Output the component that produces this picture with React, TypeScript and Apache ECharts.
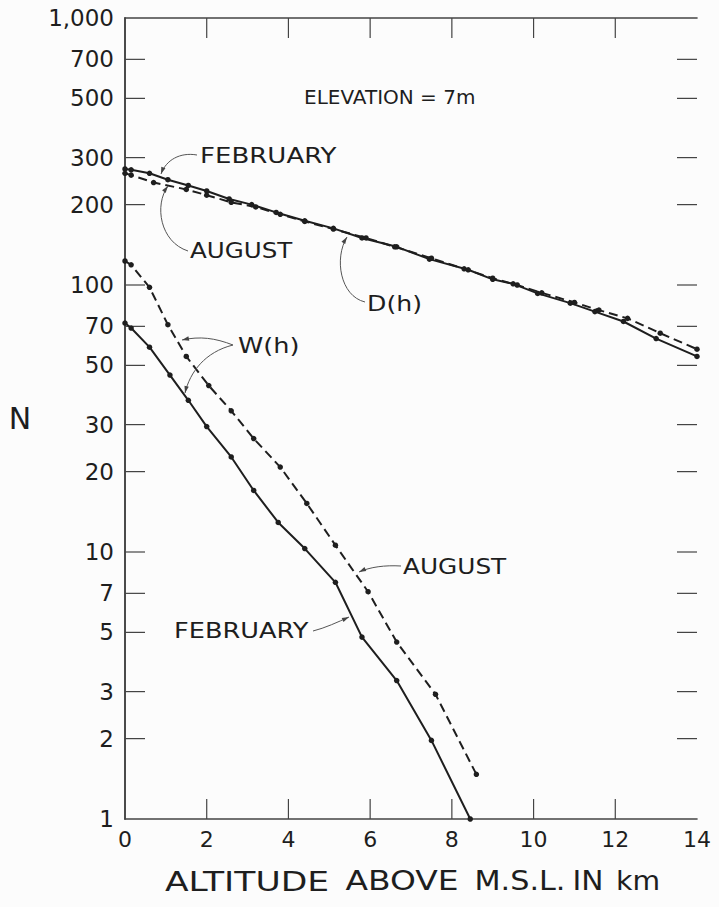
import React, { useEffect, useRef } from "react";
import * as echarts from "echarts";

// D(h) — February (solid) and August (dashed)
const dFebH = [0, 0.15, 0.6, 1.05, 1.55, 2.0, 2.55, 3.1, 3.7, 4.4, 5.1, 5.8, 6.65, 7.45, 8.4, 9.0, 9.5, 10.1, 10.9, 11.5, 12.2, 13.0, 14.0];
const dFebN = [272, 270, 262, 248, 236, 225, 210, 200, 187, 174, 163, 150, 139, 125, 114, 105, 101, 93, 85.5, 79.5, 73, 63, 54];
const dAugH = [0, 0.15, 0.7, 1.5, 2.0, 2.6, 3.2, 3.8, 4.4, 5.1, 5.9, 6.6, 7.5, 8.3, 9.0, 9.6, 10.2, 11.0, 11.6, 12.3, 13.1, 14.0];
const dAugN = [262, 258, 242, 228, 217, 204, 196, 184, 173, 162, 150, 139, 126, 115, 106, 100, 93.5, 86, 80.5, 75, 66, 57.5];

// W(h) — February (solid) and August (dashed)
const wFebH = [0, 0.15, 0.6, 1.1, 1.55, 2.0, 2.6, 3.15, 3.75, 4.4, 5.15, 5.8, 6.65, 7.5, 8.45];
const wFebN = [72, 69, 58.5, 46, 37, 29.5, 22.7, 17, 12.9, 10.3, 7.7, 4.8, 3.3, 1.97, 1.0];
const wAugH = [0, 0.15, 0.6, 1.05, 1.5, 2.05, 2.6, 3.15, 3.8, 4.45, 5.15, 5.95, 6.65, 7.6, 8.6];
const wAugN = [123, 119, 98, 71, 54, 42, 33.8, 26.6, 20.8, 15.2, 10.6, 7.1, 4.6, 2.93, 1.47];

const yTicks = [1, 2, 3, 5, 7, 10, 20, 30, 50, 70, 100, 200, 300, 500, 700, 1000];
const yInnerTicks = [2, 3, 5, 7, 10, 20, 30, 50, 70, 100, 200, 300, 500, 700];
const xInnerTicks = [2, 4, 6, 8, 10, 12];
const X_MIN = 0;
const X_MAX = 14;
const Y_MIN = 1;
const Y_MAX = 1000;

const zip = (h: number[], n: number[]) => h.map((v, i) => [v, n[i]]);

const FONT = "DejaVu Sans";
const INK = "#1e1e1e";
const TICK_LEN = 20;

export default function App() {
  const ref = useRef<HTMLDivElement>(null);
  useEffect(() => {
    if (!ref.current) return;
    const chart = echarts.init(ref.current, null, { renderer: "svg" });

    const axisLine = { show: true, lineStyle: { color: "#444", width: 1.6 } };

    const lineSeries = (name: string, data: number[][], dashed: boolean) => ({
      name,
      type: "line",
      data,
      symbol: "circle",
      symbolSize: 5.5,
      showSymbol: true,
      itemStyle: { color: INK },
      lineStyle: { color: INK, width: 2, type: dashed ? [9, 5] : "solid" },
      z: 3,
    });

    const tickLine = (x1: number, y1: number, x2: number, y2: number) => ({
      type: "line",
      shape: { x1, y1, x2, y2 },
      style: { stroke: "#444", lineWidth: 1.2 },
    });

    const yTickSeries = {
      type: "custom",
      data: yInnerTicks.map((v) => [X_MIN, v]),
      silent: true,
      z: 2,
      renderItem: (_p: any, api: any) => {
        const v = api.value(1);
        const a = api.coord([X_MIN, v]);
        const b = api.coord([X_MAX, v]);
        return {
          type: "group",
          children: [tickLine(a[0], a[1], a[0] + TICK_LEN, a[1]), tickLine(b[0] - TICK_LEN, b[1], b[0], b[1])],
        };
      },
    };
    const xTickSeries = {
      type: "custom",
      data: xInnerTicks.map((v) => [v, Y_MIN]),
      silent: true,
      z: 2,
      renderItem: (_p: any, api: any) => {
        const v = api.value(0);
        const a = api.coord([v, Y_MIN]);
        const b = api.coord([v, Y_MAX]);
        return {
          type: "group",
          children: [tickLine(a[0], a[1], a[0], a[1] - TICK_LEN), tickLine(b[0], b[1], b[0], b[1] + TICK_LEN)],
        };
      },
    };

    const txt = (text: string, x: number, y: number, size = 21, align = "left", sx = 1) => ({
      type: "text",
      x,
      y,
      scaleX: sx,
      style: { text, fontSize: size, fontFamily: FONT, fill: INK, align, verticalAlign: "middle" },
      z: 10,
    });
    const curve = (x1: number, y1: number, cpx1: number, cpy1: number, cpx2: number, cpy2: number, x2: number, y2: number) => {
      const dx = x2 - cpx2;
      const dy = y2 - cpy2;
      const L = Math.hypot(dx, dy) || 1;
      const ux = dx / L;
      const uy = dy / L;
      const len = 7;
      const w = 2.2;
      const bx = x2 - ux * len;
      const by = y2 - uy * len;
      return [
        {
          type: "bezierCurve",
          shape: { x1, y1, cpx1, cpy1, cpx2, cpy2, x2, y2 },
          style: { stroke: "#555", lineWidth: 1, fill: "none" },
          z: 10,
        },
        {
          type: "polygon",
          shape: { points: [[x2, y2], [bx - uy * w, by + ux * w], [bx + uy * w, by - ux * w]] },
          style: { fill: "#444" },
          z: 10,
        },
      ];
    };

    chart.setOption({
      animation: false,
      backgroundColor: "#fcfcfc",
      grid: { left: 125, right: 22, top: 18, bottom: 88, containLabel: false },
      xAxis: [
        {
          type: "value",
          min: X_MIN,
          max: X_MAX,
          interval: 2,
          position: "bottom",
          axisLine,
          axisTick: { show: false },
          splitLine: { show: false },
          axisLabel: { show: true, margin: 9, fontSize: 22, fontFamily: FONT, color: INK },
        },
        {
          type: "value",
          min: X_MIN,
          max: X_MAX,
          interval: 2,
          position: "top",
          axisLine,
          axisTick: { show: false },
          splitLine: { show: false },
          axisLabel: { show: false },
        },
      ],
      yAxis: [
        {
          type: "log",
          logBase: 10,
          min: Y_MIN,
          max: Y_MAX,
          position: "left",
          axisLine,
          axisTick: { show: false },
          splitLine: { show: false },
          minorTick: { show: false },
          axisLabel: {
            show: true,
            margin: 11,
            fontSize: 23,
            fontFamily: FONT,
            color: INK,
            customValues: yTicks,
            formatter: (v: number) => (v >= 1000 ? "1,000" : String(Math.round(v))),
          },
        },
        {
          type: "log",
          logBase: 10,
          min: Y_MIN,
          max: Y_MAX,
          position: "right",
          axisLine,
          axisTick: { show: false },
          splitLine: { show: false },
          axisLabel: { show: false },
        },
      ],
      series: [
        yTickSeries,
        xTickSeries,
        lineSeries("D Feb", zip(dFebH, dFebN), false),
        lineSeries("D Aug", zip(dAugH, dAugN), true),
        lineSeries("W Feb", zip(wFebH, wFebN), false),
        lineSeries("W Aug", zip(wAugH, wAugN), true),
      ],
      graphic: [
        txt("ELEVATION = 7m", 304, 97, 20),
        txt("FEBRUARY", 200, 156, 21, "left", 1.24),
        txt("AUGUST", 190, 251, 21, "left", 1.17),
        txt("D(h)", 367, 303, 21, "left", 1.2),
        txt("W(h)", 238, 346, 21, "left", 1.22),
        txt("AUGUST", 403, 567, 21, "left", 1.18),
        txt("FEBRUARY", 174, 631, 21, "left", 1.22),
        txt("N", 20, 418, 30, "center"),
        txt("ALTITUDE", 247, 881, 27, "center", 1.28),
        txt("ABOVE", 402, 881, 27, "center", 1.22),
        txt("M.S.L.", 520, 881, 27, "center", 1.12),
        txt("IN", 588, 881, 27, "center", 1.1),
        txt("km", 638, 881, 27, "center", 1.05),
        ...curve(197, 155, 180, 152, 166, 160, 161, 174),
        ...curve(188, 251, 160, 242, 154, 205, 168, 186),
        ...curve(365, 302, 340, 296, 334, 258, 347, 237),
        ...curve(233, 345, 215, 338, 200, 336, 182, 340),
        ...curve(233, 345, 205, 352, 190, 372, 185, 393),
        ...curve(401, 566, 385, 565, 370, 567, 359, 572),
        ...curve(313, 631, 325, 628, 338, 622, 349, 617),
      ],
    });
    return () => chart.dispose();
  }, []);
  return <div ref={ref} style={{ position: "fixed", left: 0, top: 0, width: 719, height: 907 }} />;
}
